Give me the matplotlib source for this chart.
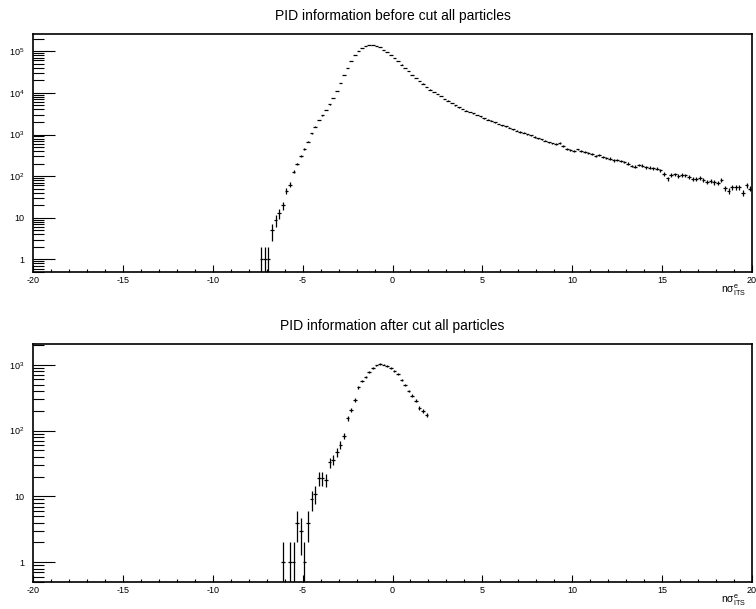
import numpy as np
import matplotlib
matplotlib.use("Agg")
import matplotlib.pyplot as plt
from matplotlib.ticker import MultipleLocator, LogLocator, FuncFormatter, NullFormatter

plt.rcParams["font.family"] = ["Liberation Sans", "DejaVu Sans"]
plt.rcParams["axes.unicode_minus"] = False
plt.rcParams["mathtext.fontset"] = "custom"
plt.rcParams["mathtext.rm"] = "Liberation Sans"
plt.rcParams["mathtext.it"] = "Liberation Sans:italic"
plt.rcParams["mathtext.bf"] = "Liberation Sans:bold"

# histogram binning: 200 bins over [-20, 20]
bin_width = 0.2
x_range = (-20.0, 20.0)

# before cut: counts starting at bin centred on -7.3
before_first = -7.3
before_counts = [
    1, 1, 1, 5, 9, 13, 20, 45, 63, 128, 195, 303, 457, 674, 1086, 1550, 2230,
    2890, 3870, 5330, 7550, 11100, 17300, 26400, 39600, 58600, 79800, 101600,
    122000, 136000, 144000, 141000, 136000, 124000, 109000, 96000, 83000,
    69000, 57600, 47900, 39600, 33000, 27400, 22800, 19400, 16700, 14100,
    12000, 10700, 9400, 8300, 7100, 6500, 5800, 5000,
    4500, 4070, 3760, 3470, 3230, 2920, 2750, 2450, 2290, 2140, 1950, 1790,
    1660, 1570, 1440, 1330, 1230, 1150, 1100, 1010, 966, 870, 813, 767, 708, 653,
    610, 600, 620, 530, 450, 420, 410, 440, 400, 380, 360, 340, 310, 320, 290,
    275, 265, 240, 245, 230, 220, 200, 175, 170, 185, 180, 165, 160, 155, 150,
    140, 112, 88, 106, 110, 103, 106, 104, 97, 85, 86, 92, 81, 74, 76, 71, 70,
    82, 51, 44, 54, 54, 54, 40, 61, 50,
]

# after cut: counts starting at bin centred on -6.1
after_first = -6.1
after_counts = [
    1, 0, 1, 1, 4, 3, 1, 4, 9, 11, 19, 19, 18, 33, 36, 47, 61, 84, 154, 206,
    292, 454, 566, 650, 775, 890, 980, 1020, 1010, 960, 890, 815, 720, 587,
    498, 400, 339, 285, 221, 199, 175,
]

titles = ["PID information before cut all particles",
          "PID information after cut all particles"]
y_limits = [(0.5, 2.6e5), (0.5, 2.05e3)]
x_title = r"n$\mathrm{\sigma}^{\mathrm{e}}_{\mathrm{ITS}}$"


def log_label(v, pos):
    if v <= 0:
        return ""
    e = int(round(np.log10(v)))
    if abs(v - 10.0 ** e) > 1e-6 * v:
        return ""
    if e == 0:
        return "1"
    if e == 1:
        return "10"
    return r"$10^{%d}$" % e


def draw_hist(ax, first, counts, title, ylim):
    n = np.asarray(counts, dtype=float)
    xc = first + bin_width * np.arange(len(n))
    keep = n > 0
    xc, n = xc[keep], n[keep]
    err = np.sqrt(n)
    lo = n - np.clip(n - err, 1e-3, None)
    ax.errorbar(xc, n, xerr=bin_width / 2, yerr=[lo, err], fmt="none",
                ecolor="k", elinewidth=0.9, capsize=0)

    ax.set_yscale("log")
    ax.set_xlim(*x_range)
    ax.set_ylim(*ylim)

    ax.xaxis.set_major_locator(MultipleLocator(5))
    ax.xaxis.set_minor_locator(MultipleLocator(1))
    ax.yaxis.set_major_locator(LogLocator(base=10, numticks=20))
    ax.yaxis.set_minor_locator(LogLocator(base=10, subs=np.arange(2, 10), numticks=20))
    ax.yaxis.set_major_formatter(FuncFormatter(log_label))
    ax.yaxis.set_minor_formatter(NullFormatter())

    ax.tick_params(axis="x", which="both", direction="in", top=False, labelsize=6.5, pad=3)
    ax.tick_params(axis="x", which="major", length=4.8, width=0.8)
    ax.tick_params(axis="x", which="minor", length=2.4, width=0.8)
    ax.tick_params(axis="y", which="both", direction="in", right=False, labelsize=6.5, pad=6)
    ax.tick_params(axis="y", which="major", length=15.6, width=0.8)
    ax.tick_params(axis="y", which="minor", length=7.7, width=0.8)
    for s in ax.spines.values():
        s.set_linewidth(1.2)

    ax.set_title(title, fontsize=10, pad=10)
    ax.annotate(x_title, xy=(1.0, 0.0), xycoords="axes fraction",
                xytext=(-4, -7.5), textcoords="offset points",
                ha="right", va="top", fontsize=7.5)


fig = plt.figure(figsize=(7.56, 6.09), dpi=100)
ax_top = fig.add_axes([0.0437, 0.5534, 0.951, 0.3908])
ax_bot = fig.add_axes([0.0437, 0.0443, 0.951, 0.3903])

draw_hist(ax_top, before_first, before_counts, titles[0], y_limits[0])
draw_hist(ax_bot, after_first, after_counts, titles[1], y_limits[1])

fig.savefig("out.png", dpi=100)
